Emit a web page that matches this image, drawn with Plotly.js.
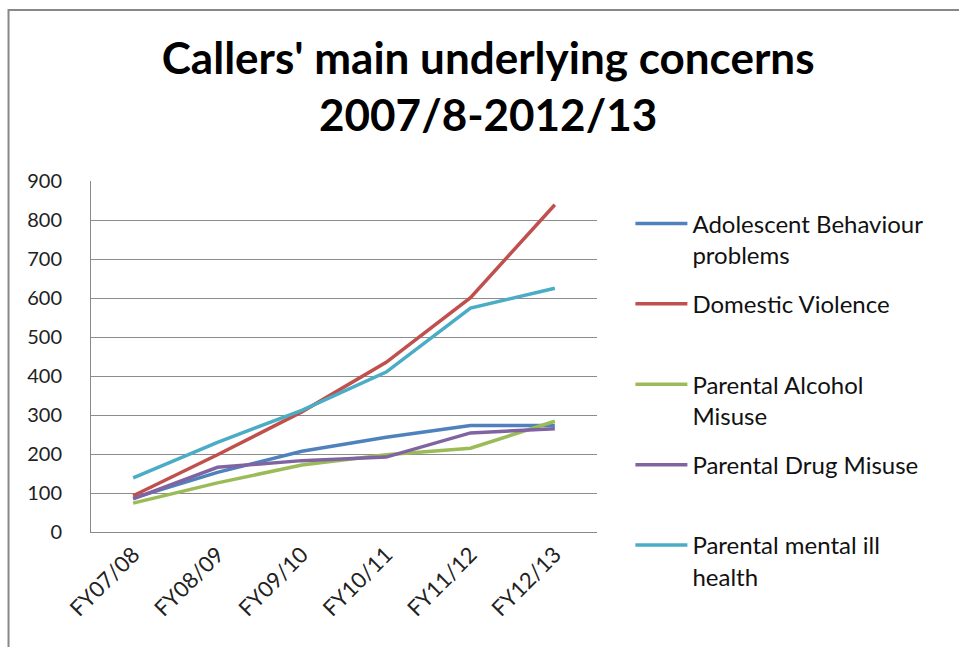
<!DOCTYPE html>
<html>
<head>
<meta charset="utf-8">
<script src="https://cdn.plot.ly/plotly-3.0.1.min.js"></script>
<style>html,body{margin:0;padding:0;background:#fff;}#chart{width:959px;height:647px;}</style>
</head>
<body>
<div id="chart"></div>
<script>
const categories = ["FY07/08", "FY08/09", "FY09/10", "FY10/11", "FY11/12", "FY12/13"];
const seriesNames = [
  "Adolescent Behaviour<br>problems",
  "Domestic Violence<br> ",
  "Parental Alcohol<br>Misuse",
  "Parental Drug Misuse<br> ",
  "Parental mental ill<br>health"
];
const adolescent = [87, 153, 207, 243, 273, 273];
const domesticViolence = [93, 198, 308, 435, 601, 839];
const alcohol = [74, 126, 172, 198, 215, 284];
const drug = [85, 166, 183, 192, 254, 265];
const mentalHealth = [139, 230, 312, 410, 574, 625];
const colors = ["#4F81BD", "#C0504D", "#9BBB59", "#8064A2", "#4BACC6"];
const yTicks = [0, 100, 200, 300, 400, 500, 600, 700, 800, 900];

const values = [adolescent, domesticViolence, alcohol, drug, mentalHealth];
const traces = values.map((v, i) => ({
  type: "scatter",
  mode: "lines",
  x: categories,
  y: v,
  name: seriesNames[i],
  legendgroup: "g" + i,
  line: {color: colors[i], width: 3.5}
}));

const font = "Lato, 'Open Sans', sans-serif";
const layout = {
  width: 959, height: 647,
  margin: {l: 91, r: 362, t: 181, b: 115},
  paper_bgcolor: "#fff", plot_bgcolor: "#fff",
  title: {
    text: "<b>Callers' main underlying concerns<br>2007/8-2012/13</b>",
    font: {family: font, size: 44, color: "#000"},
    x: 0.509, xref: "container", xanchor: "center",
    y: 0.886, yref: "container", yanchor: "top"
  },
  xaxis: {
    type: "category",
    range: [-0.5, 5.5],
    tickangle: -45,
    tickfont: {family: font, size: 22, color: "#222"},
    showgrid: false,
    showline: true, linecolor: "#888", linewidth: 1,
    ticks: "", fixedrange: true
  },
  yaxis: {
    range: [0, 900],
    tickvals: yTicks,
    ticktext: yTicks.map(String),
    tickfont: {family: font, size: 20, color: "#222"},
    showgrid: true, gridcolor: "#8c8c8c", gridwidth: 1,
    showline: true, linecolor: "#888", linewidth: 1,
    zeroline: false,
    ticks: "", ticklabelstandoff: 24, fixedrange: true
  },
  legend: {
    x: 1.066, xanchor: "left", y: 0.942, yanchor: "top",
    font: {family: font, size: 24, color: "#111"},
    valign: "top",
    tracegroupgap: 15,
    itemwidth: 52,
    maxheight: 600
  },
  shapes: [{
    type: "path", xref: "paper", yref: "paper",
    path: "M -0.163 -0.4 L -0.163 1.487 L 2 1.487",
    line: {color: "#888", width: 2}
  }],
  showlegend: true
};

Plotly.newPlot("chart", traces, layout, {displayModeBar: false, staticPlot: true});
</script>
</body>
</html>
